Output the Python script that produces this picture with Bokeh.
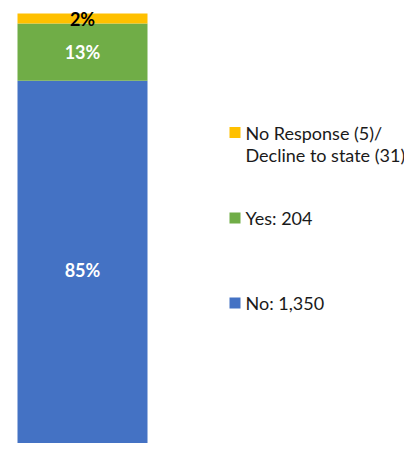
from bokeh.plotting import figure
from bokeh.models import Range1d, ColumnDataSource
from bokeh.core.properties import value
from bokeh.embed import file_html
from bokeh.resources import INLINE

# ---- data ----
segments = ["No", "Yes", "No Response / Decline to state"]
counts = [1350, 204, 36]
legend_labels = ["No: 1,350", "Yes: 204", "No Response (5)/\nDecline to state (31)"]
colors = ["#4472C4", "#70AD47", "#FFC000"]
label_colors = ["white", "white", "black"]

total = sum(counts)
pct_labels = [f"{round(c / total * 100)}%" for c in counts]

W, H = 404, 443
ORG = 0  # page offset of the plot in the picture

# vertical layout: bar top at y=13, pixel scale of 446 px for the full bar
bar_top_px = 13
bar_full_px = 446
ppc = bar_full_px / total          # pixels per count
y_end = total + (bar_top_px - ORG) / ppc
y_start = y_end - H / ppc

bar_px = 130
left_px = 17 - ORG
x_span = W / bar_px
x_start = -0.5 - left_px / bar_px

p = figure(width=W, height=H, output_backend="svg", toolbar_location=None,
           x_range=Range1d(x_start, x_start + x_span), y_range=Range1d(y_start, y_end),
           min_border=0, min_border_left=0, min_border_right=0,
           min_border_top=0, min_border_bottom=0)
p.axis.visible = False
p.grid.visible = False
p.outline_line_color = None
p.background_fill_color = "white"

bottoms, tops = [], []
acc = 0
for c in counts:
    bottoms.append(acc)
    acc += c
    tops.append(acc)
mids = [(b + t) / 2 for b, t in zip(bottoms, tops)]

src = ColumnDataSource(dict(x=[0] * len(counts), bottom=bottoms, top=tops, color=colors,
                            mid=mids, pct=pct_labels, lc=label_colors))
p.vbar(x="x", bottom="bottom", top="top", width=1, fill_color="color", line_color=None, source=src)
p.text(x="x", y="mid", text="pct", text_color="lc", source=src,
       text_font=value("Lato"), text_font_style="bold", text_font_size="18px",
       text_align="center", text_baseline="middle")

# legend, placed by picture pixel positions
def py(page_y):
    return y_end - (page_y - ORG) / ppc

def px(page_x):
    return x_start + (page_x - ORG) / bar_px

marker_centers = [302.5, 217.5, 132]
text_centers = [302, 217, 143]
lsrc = ColumnDataSource(dict(
    mx=[px(234.5)] * 3,
    my=[py(v) for v in marker_centers],
    tx=[px(245)] * 3,
    ty=[py(v) for v in text_centers],
    text=legend_labels,
    color=colors,
))
p.scatter(x="mx", y="my", marker="square", size=11, fill_color="color", line_color=None, source=lsrc)
p.text(x="tx", y="ty", text="text", source=lsrc, text_font=value("Lato"),
       text_font_size="18px", text_color="#1a1a1a", text_align="left",
       text_baseline="middle", text_line_height=1.0)

open("out.html", "w").write(file_html(p, INLINE))
